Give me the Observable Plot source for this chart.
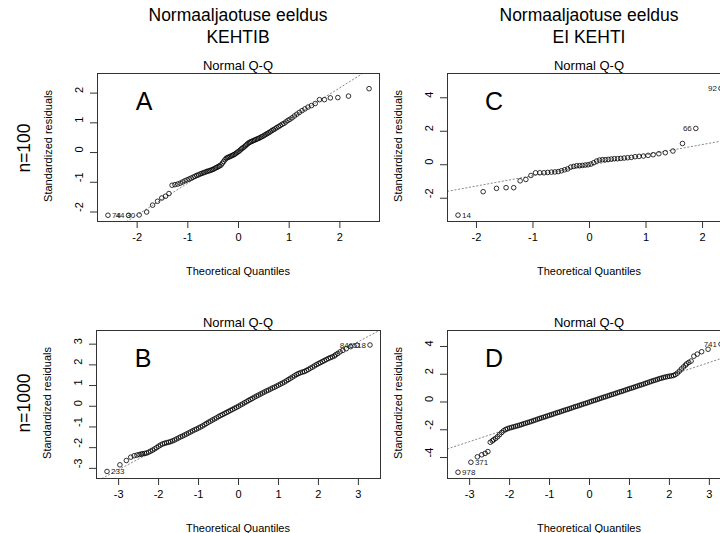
<!DOCTYPE html>
<html>
<head>
<meta charset="utf-8">
<script src="https://cdn.jsdelivr.net/npm/d3@7"></script>
<script src="https://cdn.jsdelivr.net/npm/@observablehq/plot@0.6"></script>
<style>
  body { margin: 0; background: #fff; }
  #wrap { position: relative; width: 720px; height: 533px; overflow: hidden; background: #fff;
          font-family: "Liberation Sans", Arial, sans-serif; color: #000; }
  .t { position: absolute; white-space: nowrap; line-height: 1; }
  .panel { position: absolute; }
</style>
</head>
<body>
<div id="wrap"></div>
<script>
// ---------------- DATA ----------------
// Theoretical quantiles, n = 100
const qx100 = [-2.576,-2.170,-1.960,-1.812,-1.695,-1.598,-1.514,-1.440,-1.372,-1.311,
  -1.254,-1.200,-1.150,-1.103,-1.058,-1.015,-0.974,-0.935,-0.896,-0.860,
  -0.824,-0.789,-0.755,-0.722,-0.690,-0.659,-0.628,-0.598,-0.568,-0.539,
  -0.510,-0.482,-0.454,-0.426,-0.399,-0.372,-0.345,-0.319,-0.292,-0.266,
  -0.240,-0.215,-0.189,-0.164,-0.138,-0.113,-0.088,-0.063,-0.038,-0.013,
  0.013,0.038,0.063,0.088,0.113,0.138,0.164,0.189,0.215,0.240,
  0.266,0.292,0.319,0.345,0.372,0.399,0.426,0.454,0.482,0.510,
  0.539,0.568,0.598,0.628,0.659,0.690,0.722,0.755,0.789,0.824,
  0.860,0.896,0.935,0.974,1.015,1.058,1.103,1.150,1.200,1.254,
  1.311,1.372,1.440,1.514,1.598,1.695,1.812,1.960,2.170,2.576];
// Panel A standardized residuals (sorted)
const residA = [-2.11,-2.11,-2.10,-2.00,-1.77,-1.64,-1.53,-1.47,-1.38,-1.10,
  -1.08,-1.06,-1.03,-0.99,-0.95,-0.92,-0.89,-0.86,-0.83,-0.80,
  -0.77,-0.75,-0.72,-0.70,-0.68,-0.66,-0.64,-0.62,-0.61,-0.59,
  -0.57,-0.55,-0.52,-0.50,-0.47,-0.45,-0.42,-0.36,-0.30,-0.24,
  -0.19,-0.17,-0.15,-0.13,-0.11,-0.09,-0.07,-0.04,-0.01,0.02,
  0.05,0.09,0.13,0.16,0.19,0.23,0.27,0.31,0.34,0.36,
  0.38,0.40,0.42,0.44,0.46,0.48,0.50,0.53,0.55,0.58,
  0.61,0.64,0.67,0.70,0.74,0.77,0.80,0.84,0.87,0.91,
  0.95,0.98,1.03,1.08,1.12,1.17,1.23,1.29,1.35,1.41,
  1.47,1.53,1.58,1.65,1.78,1.78,1.84,1.85,1.90,2.15];

// Theoretical quantiles, n = 50
const qx50 = [-2.326,-1.881,-1.645,-1.476,-1.341,-1.227,-1.126,-1.036,-0.954,-0.878,
  -0.806,-0.739,-0.674,-0.613,-0.553,-0.496,-0.440,-0.385,-0.332,-0.279,
  -0.228,-0.176,-0.126,-0.075,-0.025,0.025,0.075,0.126,0.176,0.228,
  0.279,0.332,0.385,0.440,0.496,0.553,0.613,0.674,0.739,0.806,
  0.878,0.954,1.036,1.126,1.227,1.341,1.476,1.645,1.881,2.326];
// Panel C standardized residuals (sorted)
const residC = [-3.01,-1.61,-1.41,-1.37,-1.37,-0.96,-0.88,-0.64,-0.48,-0.48,
  -0.48,-0.46,-0.44,-0.43,-0.41,-0.36,-0.30,-0.25,-0.14,-0.10,
  -0.06,-0.06,-0.04,-0.02,0.00,0.04,0.12,0.22,0.28,0.30,
  0.30,0.32,0.34,0.36,0.36,0.38,0.40,0.42,0.44,0.48,
  0.50,0.52,0.56,0.60,0.66,0.72,0.82,1.27,2.17,4.56];

// Theoretical quantiles, n = 1000 (extreme ranks, then the dense middle as read)
const qx1000 = [-3.291,-2.968,-2.807,-2.697,-2.612,-2.543,-2.484,-2.432,
  -2.40,-2.35,-2.30,-2.25,-2.20,-2.15,-2.10,-2.05,-2.00,-1.95,-1.90,-1.85,-1.80,-1.75,-1.70,-1.65,
  -1.60,-1.55,-1.50,-1.45,-1.40,-1.35,-1.30,-1.25,-1.20,-1.15,-1.10,-1.05,-1.00,-0.95,-0.90,-0.85,
  -0.80,-0.75,-0.70,-0.65,-0.60,-0.55,-0.50,-0.45,-0.40,-0.35,-0.30,-0.25,-0.20,-0.15,-0.10,-0.05,
  0.00,
  0.05,0.10,0.15,0.20,0.25,0.30,0.35,0.40,0.45,0.50,0.55,0.60,0.65,0.70,0.75,0.80,
  0.85,0.90,0.95,1.00,1.05,1.10,1.15,1.20,1.25,1.30,1.35,1.40,1.45,1.50,1.55,1.60,
  1.65,1.70,1.75,1.80,1.85,1.90,1.95,2.00,2.05,2.10,2.15,2.20,2.25,2.30,2.35,2.40,
  2.432,2.484,2.543,2.612,2.697,2.807,2.968,3.291];
// Panel B standardized residuals
const residB = [-3.15,-2.83,-2.62,-2.46,-2.39,-2.36,-2.33,-2.31,
  -2.30,-2.28,-2.26,-2.22,-2.17,-2.12,-2.06,-2.00,-1.93,-1.87,-1.82,-1.79,-1.76,-1.74,-1.71,-1.67,
  -1.63,-1.58,-1.53,-1.48,-1.44,-1.39,-1.34,-1.29,-1.24,-1.19,-1.14,-1.10,-1.05,-1.00,-0.95,-0.89,
  -0.83,-0.77,-0.72,-0.66,-0.61,-0.56,-0.50,-0.45,-0.40,-0.35,-0.30,-0.25,-0.20,-0.15,-0.10,-0.05,
  0.00,
  0.06,0.11,0.17,0.22,0.28,0.33,0.38,0.44,0.49,0.54,0.59,0.64,0.69,0.74,0.78,0.83,
  0.88,0.92,0.97,1.02,1.07,1.12,1.17,1.23,1.29,1.35,1.41,1.47,1.53,1.58,1.62,1.65,
  1.68,1.73,1.78,1.84,1.89,1.95,2.01,2.06,2.11,2.16,2.21,2.26,2.31,2.35,2.39,2.43,
  2.49,2.55,2.63,2.70,2.78,2.88,2.95,2.96];
// Panel D standardized residuals
const residD = [-5.06,-4.34,-3.95,-3.80,-3.70,-3.57,-2.90,-2.80,
  -2.72,-2.62,-2.50,-2.35,-2.20,-2.07,-1.98,-1.92,-1.87,-1.83,-1.79,-1.75,-1.71,-1.67,-1.62,-1.57,
  -1.53,-1.48,-1.44,-1.39,-1.34,-1.29,-1.24,-1.19,-1.14,-1.10,-1.05,-1.00,-0.95,-0.91,-0.86,-0.81,
  -0.76,-0.72,-0.67,-0.62,-0.57,-0.53,-0.48,-0.43,-0.38,-0.33,-0.29,-0.24,-0.19,-0.14,-0.10,-0.05,
  0.00,
  0.05,0.10,0.14,0.19,0.24,0.29,0.34,0.38,0.43,0.48,0.53,0.57,0.62,0.67,0.72,0.76,
  0.81,0.86,0.91,0.96,1.00,1.05,1.10,1.15,1.20,1.24,1.29,1.34,1.39,1.44,1.49,1.54,
  1.58,1.63,1.68,1.72,1.76,1.80,1.83,1.86,1.88,1.91,1.98,2.08,2.22,2.38,2.52,2.65,
  2.75,2.85,2.95,3.30,3.45,3.62,3.80,4.17];

// Labelled observations: index into the sorted arrays, and observation id
const idxA = [0, 1, 2],     idA = ["74", "44", "30"];
const idxB = [0, 111, 112], idB = ["233", "846", "518"];
const idxC = [0, 48, 49],   idC = ["14", "66", "92"];
const idxD = [0, 1, 112],   idD = ["978", "371", "741"];

// Reference (qqline) intercept and slope
const lineA = [0.04, 1.07];
const lineB = [0.03, 1.03];
const lineC = [-0.03, 0.62];
const lineD = [0.00, 0.95];

// Tick values
const ticksXA = [-2, -1, 0, 1, 2], ticksYA = [-2, -1, 0, 1, 2];
const ticksXB = [-3, -2, -1, 0, 1, 2, 3], ticksYB = [-3, -2, -1, 0, 1, 2, 3];
const ticksXC = [-2, -1, 0, 1, 2], ticksYC = [-2, 0, 2, 4];
const ticksXD = [-3, -2, -1, 0, 1, 2, 3], ticksYD = [-4, -2, 0, 2, 4];

const letters = ["A", "B", "C", "D"];
const colTitles = [["Normaaljaotuse eeldus", "KEHTIB"], ["Normaaljaotuse eeldus", "EI KEHTI"]];
const rowTitles = ["n=100", "n=1000"];
const subTitle = "Normal Q-Q";
const xLab = "Theoretical Quantiles";
const yLab = "Standardized residuals";

// ---------------- DRAW ----------------
const wrap = document.getElementById("wrap");
const FONT = '"Liberation Sans", Arial, sans-serif';

function addText(txt, cx, cy, size, rot) {
  const d = document.createElement("div");
  d.className = "t";
  d.textContent = txt;
  d.style.left = cx + "px";
  d.style.top = cy + "px";
  d.style.fontSize = size + "px";
  d.style.transform = "translate(-50%,-50%)" + (rot ? " rotate(" + rot + "deg)" : "");
  wrap.appendChild(d);
}

function qqSeg(ab, xd, yd) {
  const [a, b] = ab;
  let x0 = xd[0], x1 = xd[1];
  const xa = (yd[0] - a) / b, xb = (yd[1] - a) / b;
  x0 = Math.max(x0, Math.min(xa, xb));
  x1 = Math.min(x1, Math.max(xa, xb));
  return [{x: x0, y: a + b * x0}, {x: x1, y: a + b * x1}];
}

const panels = [
  {qx: qx100, r: residA, idx: idxA, ids: idA, ln: lineA, tx: ticksXA, ty: ticksYA,
   f: {l: 97, t: 73, w: 282, h: 148}, xd: [-2.782, 2.782], yd: [-2.32, 2.66], letter: 0},
  {qx: qx1000, r: residB, idx: idxB, ids: idB, ln: lineB, tx: ticksXB, ty: ticksYB,
   f: {l: 96, t: 330, w: 284, h: 148}, xd: [-3.554, 3.554], yd: [-3.49, 3.66], letter: 1},
  {qx: qx50, r: residC, idx: idxC, ids: idC, ln: lineC, tx: ticksXC, ty: ticksYC,
   f: {l: 447, t: 73, w: 284, h: 148}, xd: [-2.512, 2.512], yd: [-3.39, 5.45], letter: 2},
  {qx: qx1000, r: residD, idx: idxD, ids: idD, ln: lineD, tx: ticksXD, ty: ticksYD,
   f: {l: 447, t: 330, w: 284, h: 148}, xd: [-3.554, 3.554], yd: [-5.51, 5.15], letter: 3}
];

const ML = 32, MR = 6, MT = 6, MB = 30;

panels.forEach(p => {
  const pts = p.qx.map((x, i) => ({x, y: p.r[i]}));
  const labX = p.idx.map(i => p.qx[i]);
  const mid = (d3.min(labX) + d3.max(labX)) / 2;
  const labs = p.idx.map((i, k) => ({x: p.qx[i], y: p.r[i], t: p.ids[k], left: p.qx[i] > mid}));
  const chart = Plot.plot({
    width: p.f.w + ML + MR,
    height: p.f.h + MT + MB,
    marginLeft: ML, marginRight: MR, marginTop: MT, marginBottom: MB,
    x: {domain: p.xd, label: null},
    y: {domain: p.yd, label: null},
    style: {fontFamily: FONT, fontSize: "11px", color: "#000", background: "transparent", overflow: "visible"},
    marks: [
      Plot.line(qqSeg(p.ln, p.xd, p.yd), {x: "x", y: "y", stroke: "#8a8a8a", strokeWidth: 1, strokeDasharray: "1.3,2.4"}),
      Plot.dot(pts, {x: "x", y: "y", r: 2.3, stroke: "#000", strokeWidth: 0.8}),
      Plot.text(labs.filter(d => !d.left), {x: "x", y: "y", text: "t", textAnchor: "start", dx: 4, fontSize: 8, fill: "#222"}),
      Plot.text(labs.filter(d => d.left), {x: "x", y: "y", text: "t", textAnchor: "end", dx: -4, fontSize: 8, fill: "#222"}),
      Plot.frame({stroke: "#333", strokeWidth: 1}),
      Plot.axisX({ticks: p.tx, tickSize: 7, tickPadding: 5, tickFormat: d => String(d), label: null, stroke: "#333", fontSize: 11}),
      Plot.axisY({ticks: p.ty, tickSize: 7, tickFormat: () => "", label: null, stroke: "#333"}),
      Plot.text(p.ty, {y: d => d, text: d => String(d), frameAnchor: "left", dx: -18, rotate: -90, fontSize: 11, fill: "#000"})
    ]
  });
  chart.classList.add("panel");
  chart.style.left = (p.f.l - ML) + "px";
  chart.style.top = (p.f.t - MT) + "px";
  wrap.appendChild(chart);

  const cx = p.f.l + p.f.w / 2;
  const cy = p.f.t + p.f.h / 2;
  addText(subTitle, cx, p.f.t - 8, 13);
  addText(xLab, cx, p.f.t + p.f.h + 50, 11);
  addText(yLab, p.f.l - 49, cy - 1, 11, -90);
  addText(letters[p.letter], p.f.l + 47, p.f.t + 28, 25);
});

// column titles
[[238, colTitles[0]], [589, colTitles[1]]].forEach(([cx, lines]) => {
  addText(lines[0], cx, 16, 17.5);
  addText(lines[1], cx, 37.5, 17.5);
});
// row titles
addText(rowTitles[0], 25, 147.5, 17.5, -90);
addText(rowTitles[1], 25, 403, 17.5, -90);
</script>
</body>
</html>
